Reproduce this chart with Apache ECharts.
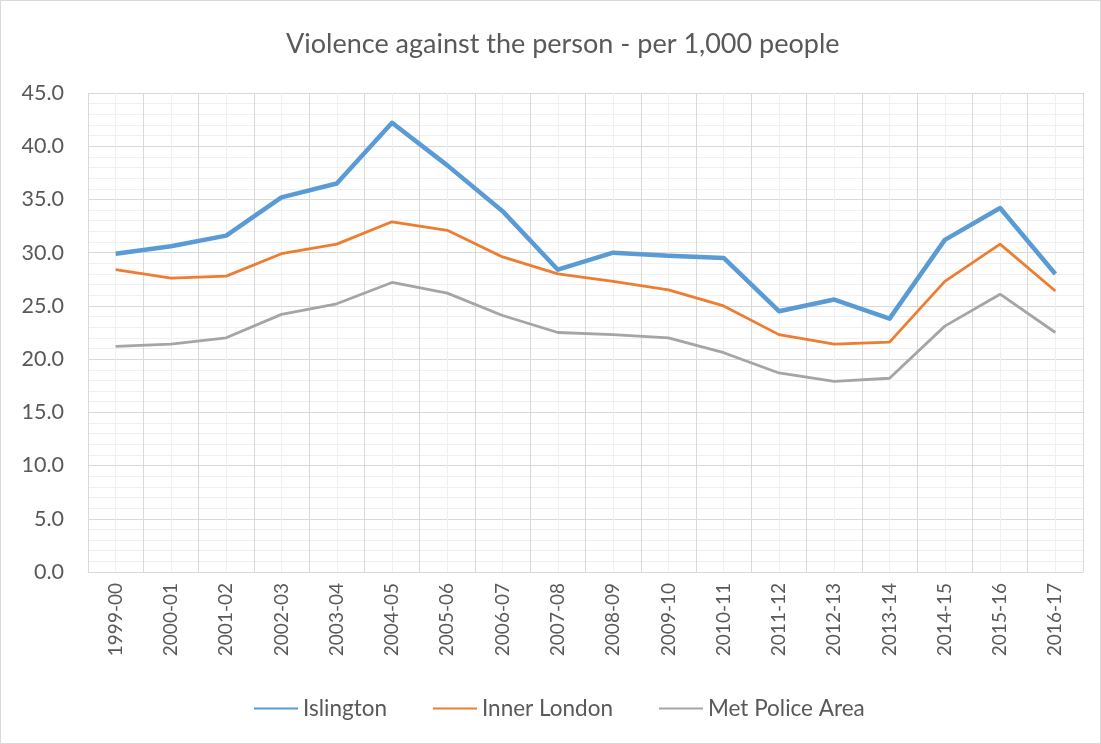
<!DOCTYPE html>
<html>
<head>
<meta charset="utf-8">
<script src="https://cdn.jsdelivr.net/npm/echarts@6/dist/echarts.min.js"></script>
<style>
  html, body { margin: 0; padding: 0; background: #fff; }
  #frame { position: absolute; left: 0; top: 0; width: 1099px; height: 742px; border: 1px solid #d9d9d9; }
  #chart { width: 1101px; height: 744px; }
</style>
</head>
<body>
<div id="frame"></div>
<div id="chart"></div>
<script>
// Financial years
const years = ['1999-00','2000-01','2001-02','2002-03','2003-04','2004-05','2005-06','2006-07','2007-08',
  '2008-09','2009-10','2010-11','2011-12','2012-13','2013-14','2014-15','2015-16','2016-17'];

// Offences per 1,000 people
const islington = [29.9, 30.6, 31.6, 35.2, 36.5, 42.2, 38.2, 33.9, 28.4, 30.0, 29.7, 29.5, 24.5, 25.6, 23.8, 31.2, 34.2, 28.0];
const innerLondon = [28.4, 27.6, 27.8, 29.9, 30.8, 32.9, 32.1, 29.6, 28.0, 27.3, 26.5, 25.0, 22.3, 21.4, 21.6, 27.3, 30.8, 26.4];
const metPolice = [21.2, 21.4, 22.0, 24.2, 25.2, 27.2, 26.2, 24.1, 22.5, 22.3, 22.0, 20.6, 18.7, 17.9, 18.2, 23.1, 26.1, 22.5];

const FONT = 'Lato, "Open Sans", sans-serif';
const TXT = '#595959';

const chart = echarts.init(document.getElementById('chart'), null, { renderer: 'canvas' });
chart.setOption({
  backgroundColor: 'transparent',
  animation: false,
  title: {
    text: 'Violence against the person - per 1,000 people',
    left: 281,
    top: 26,
    textStyle: { fontFamily: FONT, fontSize: 27, fontWeight: 'normal', color: TXT }
  },
  legend: {
    bottom: 19,
    left: 248,
    itemWidth: 44,
    itemHeight: 14,
    itemGap: 45,
    itemStyle: { opacity: 0 },
    textStyle: { fontFamily: FONT, fontSize: 22.5, color: TXT },
    data: ['Islington', 'Inner London', 'Met Police Area']
  },
  grid: { left: 88, right: 18, top: 93, bottom: 172 },
  xAxis: [
    {
      type: 'category',
      data: years,
      boundaryGap: true,
      axisLine: { lineStyle: { color: '#d9d9d9', width: 1 } },
      axisTick: { show: false },
      splitLine: { show: false },
      axisLabel: { rotate: 90, margin: 11, fontFamily: FONT, fontSize: 19, color: TXT, interval: 0 }
    },
    {
      // Gridline helper: major lines on category boundaries, minor on centres
      type: 'value',
      position: 'top',
      min: 0,
      max: years.length,
      interval: 1,
      axisLine: { show: false },
      axisTick: { show: false },
      axisLabel: { show: false },
      splitLine: { show: true, lineStyle: { color: '#d9d9d9', width: 1 } },
      minorTick: { show: false, splitNumber: 2 },
      minorSplitLine: { show: true, lineStyle: { color: '#f0f0f0', width: 1 } }
    }
  ],
  yAxis: {
    type: 'value',
    min: 0,
    max: 45,
    interval: 5,
    axisLine: { show: false },
    axisTick: { show: false },
    axisLabel: { margin: 24, fontFamily: FONT, fontSize: 21.5, color: TXT, formatter: v => v.toFixed(1) },
    splitLine: { show: true, lineStyle: { color: '#d9d9d9', width: 1 } },
    minorTick: { show: false, splitNumber: 5 },
    minorSplitLine: { show: true, lineStyle: { color: '#f0f0f0', width: 1 } }
  },
  series: [
    {
      name: 'Islington', type: 'line', data: islington, xAxisIndex: 0,
      symbol: 'none', lineStyle: { color: '#5B9BD5', width: 4.5, join: 'round' }, itemStyle: { color: '#5B9BD5' }, z: 5
    },
    {
      name: 'Inner London', type: 'line', data: innerLondon, xAxisIndex: 0,
      symbol: 'none', lineStyle: { color: '#ED7D31', width: 2.8 }, itemStyle: { color: '#ED7D31' }, z: 4
    },
    {
      name: 'Met Police Area', type: 'line', data: metPolice, xAxisIndex: 0,
      symbol: 'none', lineStyle: { color: '#A5A5A5', width: 2.8 }, itemStyle: { color: '#A5A5A5' }, z: 3
    }
  ]
});
</script>
</body>
</html>
